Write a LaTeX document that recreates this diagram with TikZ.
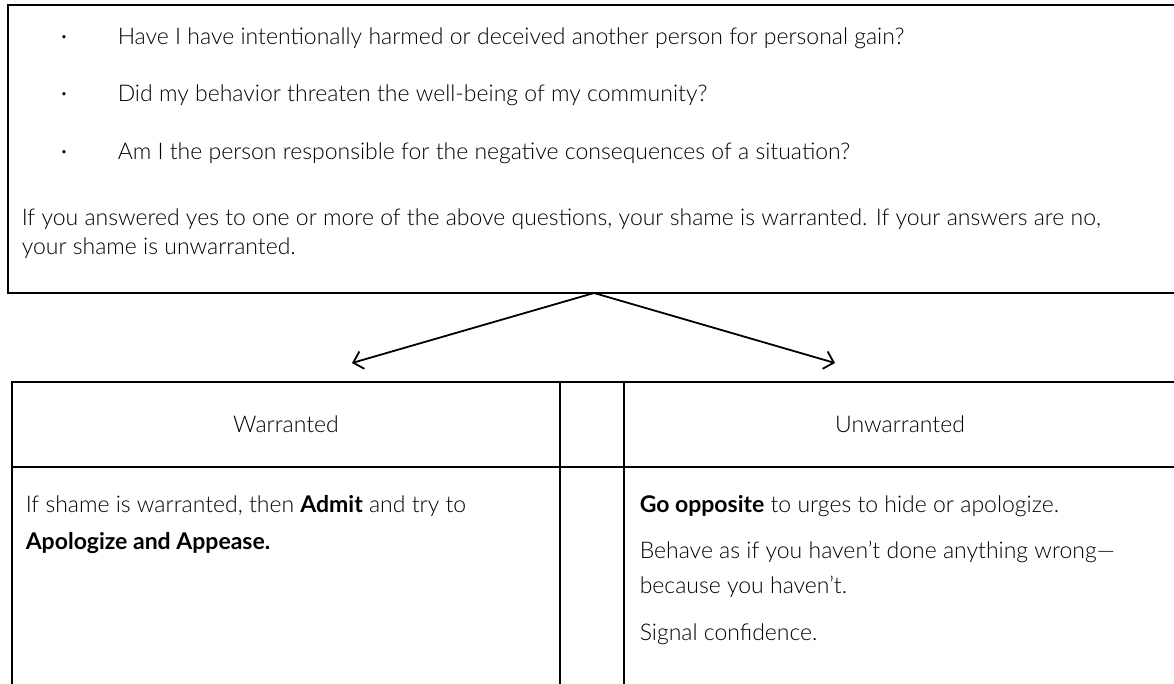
\documentclass[tikz,border=0pt]{standalone}
\usepackage{fontspec}
\setmainfont{Lato}[UprightFont=* Light, BoldFont=* Bold]
\usetikzlibrary{arrows.meta, positioning}

\begin{document}
\begin{tikzpicture}[
    x=1pt, y=-1pt,
    line width=1.5pt,
    >={Straight Barb[length=9pt, width=18pt]},
    txt/.style={anchor=base west, inner sep=0pt, font=\fontsize{23}{28}\selectfont},
    pkt/.style={anchor=base, inner sep=0pt, font=\fontsize{11}{11}\selectfont},
    cell/.style={draw, anchor=north west, inner sep=0pt, outer sep=0pt,
                 font=\fontsize{23}{28}\selectfont}
]
\useasboundingbox (0,0) rectangle (1174,683);
\clip (0,0) rectangle (1174,683);

% --- Fragen-Kasten ---
\node[cell, minimum width=1172pt, minimum height=288pt] (frage) at (8,5) {};

\node[pkt] (dot1) at (64,40) {•};
\node[txt] (q1) at (117,44) {Have I have intentionally harmed or deceived another person for personal gain?};
\node[pkt] (dot2) at (64,97) {•};
\node[txt] (q2) at (117,101) {Did my behavior threaten the well-being of my community?};
\node[pkt] (dot3) at (64,155) {•};
\node[txt] (q3) at (117,159) {Am I the person responsible for the negative consequences of a situation?};

\node[txt] (para1) at (21,225) {If you answered yes to one or more of the above questions, your shame is warranted. If your answers are no,};
\node[txt] (para2) at (21,254) {your shame is unwarranted.};

% --- Tabelle ---
\node[cell, minimum width=548pt, minimum height=85pt] (warr) at (12,382) {Warranted};
\node[cell, minimum width=64pt, minimum height=85pt, right=0pt of warr] (gap) {};
\node[cell, minimum width=552pt, minimum height=85pt, right=0pt of gap] (unwarr) {Unwarranted};

\node[cell, minimum width=548pt, minimum height=260pt, below=0pt of warr] (warrbody) {};
\node[cell, minimum width=64pt, minimum height=260pt, below=0pt of gap] (gapbody) {};
\node[cell, minimum width=552pt, minimum height=260pt, below=0pt of unwarr] (unwarrbody) {};

% linke Spalte
\node[txt] (w1) at (25,512) {If shame is warranted, then \textbf{Admit} and try to};
\node[txt] (w2) at (25,549) {\textbf{Apologize and Appease.}};

% rechte Spalte
\node[txt] (u1) at (639,512) {\textbf{Go opposite} to urges to hide or apologize.};
\node[txt] (u2) at (639,558) {Behave as if you haven’t done anything wrong—};
\node[txt] (u3) at (639,593) {because you haven’t.};
\node[txt] (u4) at (639,640) {Signal confidence.};

% --- Pfeile ---
\coordinate (zielW) at (352,363);
\coordinate (zielU) at (835,363);
\draw[->, line width=1.8pt] (frage.south) -- (zielW);
\draw[->, line width=1.8pt] (frage.south) -- (zielU);

\end{tikzpicture}
\end{document}
